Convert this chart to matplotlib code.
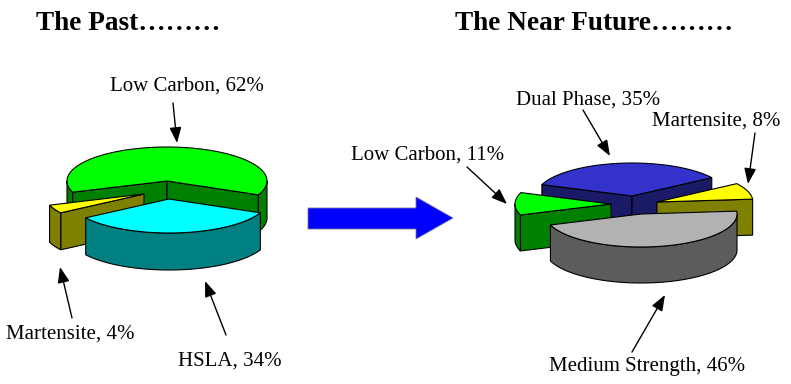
import numpy as np
import matplotlib
matplotlib.use("Agg")
import matplotlib.pyplot as plt
from matplotlib.patches import Polygon

plt.rcParams["font.family"] = "Liberation Serif"

# Pie shares in percent, clockwise from the first start angle.
past_names = ["HSLA", "Martensite", "Low Carbon"]
past_values = [34, 4, 62]
future_names = ["Medium Strength", "Low Carbon", "Dual Phase", "Martensite"]
future_values = [46, 11, 35, 8]

past_colors = [("#00FFFF", "#008080"), ("#FFFF00", "#808000"), ("#00FF00", "#008000")]
future_colors = [("#B2B2B2", "#5C5C5C"), ("#00FF00", "#008000"),
                 ("#3333CC", "#1A1A66"), ("#FFFF00", "#808000")]


def ring(cx, cy, rx, ry, a0, a1):
    # Points on the ellipse, angles clockwise from 12 o'clock.
    t = np.radians(np.linspace(a0, a1, max(int(abs(a1 - a0)), 2)))
    return np.column_stack([cx + rx * np.sin(t), cy - ry * np.cos(t)])


def slice3d(ax, cx, cy, rx, ry, depth, a0, a1, top, side):
    lw = 0.8
    down = np.array([0, depth])
    # Cut faces that look towards the viewer.
    for a, visible in ((a0, np.sin(np.radians(a0)) < 0), (a1, np.sin(np.radians(a1)) > 0)):
        if visible:
            e = ring(cx, cy, rx, ry, a, a)[0]
            c = np.array([cx, cy])
            ax.add_patch(Polygon([c, e, e + down, c + down], fc=side, ec="black", lw=lw))
    # Outer rim, only the front half can be seen.
    for k in (-360, 0, 360):
        lo, hi = max(a0, 90 + k), min(a1, 270 + k)
        if hi > lo:
            r = ring(cx, cy, rx, ry, lo, hi)
            ax.add_patch(Polygon(np.vstack([r, (r + down)[::-1]]), fc=side, ec="black", lw=lw))
    pts = np.vstack([[cx, cy], ring(cx, cy, rx, ry, a0, a1)])
    ax.add_patch(Polygon(pts, fc=top, ec="black", lw=lw))


def pie3d(ax, values, colors, start, centers, order, rx, ry, depth):
    edges = start + np.cumsum([0] + list(values)) * 3.6
    for i in order:
        slice3d(ax, centers[i][0], centers[i][1], rx, ry, depth,
                edges[i], edges[i + 1], colors[i][0], colors[i][1])


fig = plt.figure(figsize=(7.91, 3.84), dpi=100)
ax = fig.add_axes([0, 0, 1, 1])
ax.set_xlim(0, 791)
ax.set_ylim(384, 0)
ax.axis("off")

pie3d(ax, past_values, past_colors, 114,
      [(169, 199), (144, 194), (167, 181)], [2, 1, 0], 100, 34, 37)
pie3d(ax, future_values, future_colors, 85,
      [(641, 214), (611, 204), (632, 196), (657, 202)], [2, 3, 1, 0], 96, 33, 36)

# Big arrow between the two pies.
ax.add_patch(Polygon([(308, 208), (416, 208), (416, 197), (453, 218), (416, 239),
                      (416, 229), (308, 229)], fc="#0000FF", ec="#777799", lw=0.6))

ax.text(36, 23.5, "The Past………", fontsize=19.6, fontweight="bold", va="center")
ax.text(455, 23.5, "The Near Future………", fontsize=19.6, fontweight="bold", va="center")

labels = [
    (110, 86, past_names[2] + ", 62%", (173, 103), (177, 143)),
    (6, 334, past_names[1] + ", 4%", (72, 318), (60, 267)),
    (178, 361, past_names[0] + ", 34%", (226, 335), (205, 281)),
    (351, 155, future_names[1] + ", 11%", (467, 167), (507, 204)),
    (516, 100, future_names[2] + ", 35%", (583, 110), (610, 156)),
    (652, 121, future_names[3] + ", 8%", (755, 133), (748, 184)),
    (549, 367, future_names[0] + ", 46%", (632, 352), (665, 295)),
]
for x, y, s, p0, p1 in labels:
    ax.text(x, y, s, fontsize=15, va="center", ha="left")
    ax.annotate("", xy=p1, xytext=p0,
                arrowprops=dict(arrowstyle="-|>,head_length=0.95,head_width=0.36",
                                color="black", lw=1, shrinkA=0, shrinkB=0))

fig.savefig("out.png", dpi=100)
